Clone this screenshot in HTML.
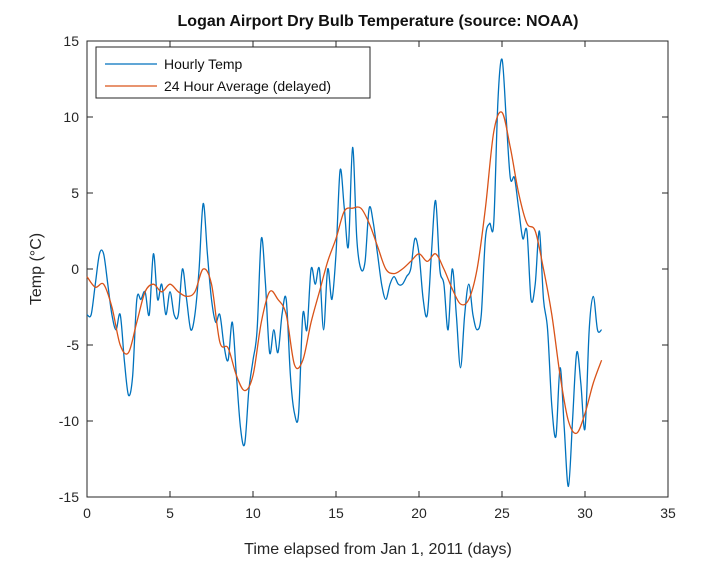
<!DOCTYPE html>
<html><head><meta charset="utf-8"><style>
body{margin:0;background:#fff;font-family:"Liberation Sans",sans-serif;}
svg text{font-family:"Liberation Sans",sans-serif;}
</style></head><body>
<svg id="chart" width="728" height="570" xmlns="http://www.w3.org/2000/svg">
<rect width="728" height="570" fill="#fff"/>
<text x="378" y="26" text-anchor="middle" font-size="16" font-weight="bold" fill="#111">Logan Airport Dry Bulb Temperature (source: NOAA)</text>
<g id="axes"></g>
<g id="series"></g>
<text transform="translate(41,269) rotate(-90)" text-anchor="middle" font-size="16" fill="#262626">Temp (°C)</text>
<text x="378" y="554" text-anchor="middle" font-size="16" fill="#262626">Time elapsed from Jan 1, 2011 (days)</text>
<g>
<rect x="96" y="47" width="274" height="51" fill="#fff" stroke="#262626" stroke-width="1"/>
<line x1="105" y1="64" x2="157" y2="64" stroke="#0072BD" stroke-width="1.3"/>
<text x="164" y="69" font-size="14" fill="#111">Hourly Temp</text>
<line x1="105" y1="86" x2="157" y2="86" stroke="#D95319" stroke-width="1.3"/>
<text x="164" y="91" font-size="14" fill="#111">24 Hour Average (delayed)</text>
</g>
</svg>
<script>
const hourlyDays = [0,0.25,0.5,0.75,1,1.25,1.5,1.75,2,2.25,2.5,2.75,3,3.25,3.5,3.75,4,4.25,4.5,4.75,5,5.25,5.5,5.75,6,6.25,6.5,6.75,7,7.25,7.5,7.75,8,8.25,8.5,8.75,9,9.25,9.5,9.75,10,10.25,10.5,10.75,11,11.25,11.5,11.75,12,12.25,12.5,12.75,13,13.25,13.5,13.75,14,14.25,14.5,14.75,15,15.25,15.5,15.75,16,16.25,16.5,16.75,17,17.25,17.5,17.75,18,18.25,18.5,18.75,19,19.25,19.5,19.75,20,20.25,20.5,20.75,21,21.25,21.5,21.75,22,22.25,22.5,22.75,23,23.25,23.5,23.75,24,24.25,24.5,24.75,25,25.25,25.5,25.75,26,26.25,26.5,26.75,27,27.25,27.5,27.75,28,28.25,28.5,28.75,29,29.25,29.5,29.75,30,30.25,30.5,30.75,31];
const hourlyTemp = [-3,-3,-1,1,1,-1,-3,-4,-3,-6,-8.3,-7,-2,-2,-1.5,-3,1,-2,-1,-3,-1.5,-3,-3,0,-2,-4,-3,0,4.3,1,-2,-3.5,-3,-5,-6,-3.5,-7,-10.5,-11.5,-8,-6,-4,2,-1,-5.5,-4,-5.5,-3,-2,-7,-9.5,-9.5,-3,-4,0,-1,0,-4,0,-2,1,6.5,4,1.5,8,2,0,0.5,4,3,1,-1,-2,-1,-0.5,-1,-1,-0.5,0,2,1,-2,-3,1,4.5,0,-1,-4,0,-3,-6.5,-3,-1,-3,-4,-3,2,3,3,11,13.8,10,6,6,4,2,2.5,-2,-1,2.5,-2,-4,-9,-11,-6.5,-10.5,-14.3,-10,-5.5,-7.5,-10.5,-4,-1.8,-4,-4];
const avgDays = [0,0.5,1,1.5,2,2.5,3,3.5,4,4.5,5,5.5,6,6.5,7,7.5,8,8.5,9,9.5,10,10.5,11,11.5,12,12.5,13,13.5,14,14.5,15,15.5,16,16.5,17,17.5,18,18.5,19,19.5,20,20.5,21,21.5,22,22.5,23,23.5,24,24.5,25,25.5,26,26.5,27,27.5,28,28.5,29,29.5,30,30.5,31];
const avgTemp = [-0.5,-1.2,-1,-2.5,-5,-5.5,-3.5,-1.5,-1,-1.5,-1,-1.5,-1.8,-1.5,0,-1,-4.8,-5.2,-7,-8,-7,-3.5,-1.5,-2,-3,-6.3,-6,-3.5,-1.5,0.5,2,3.8,4,4,3,1.5,0,-0.3,0,0.5,1,0.5,1,0,-1.3,-2.3,-2,0,4,9,10.3,8,5,3,2.5,0,-3,-7,-10,-10.8,-9.5,-7.5,-6];
const xTicks = [0,5,10,15,20,25,30,35];
const yTicks = [-15,-10,-5,0,5,10,15];

const X0=87,X1=668,Y0=497,Y1=41;
const xs = d => X0 + (d-0)/(35-0)*(X1-X0);
const ys = v => Y0 - (v+15)/30*(Y0-Y1);
const NS="http://www.w3.org/2000/svg";
const axes=document.getElementById('axes'), series=document.getElementById('series');
function mk(tag,attrs,parent){const e=document.createElementNS(NS,tag);for(const k in attrs)e.setAttribute(k,attrs[k]);parent.appendChild(e);return e;}
function smooth(pts){
  let d='M'+pts[0][0].toFixed(1)+','+pts[0][1].toFixed(1);
  for(let i=0;i<pts.length-1;i++){
    const p0=pts[Math.max(0,i-1)],p1=pts[i],p2=pts[i+1],p3=pts[Math.min(pts.length-1,i+2)];
    const c1x=p1[0]+(p2[0]-p0[0])/6,c1y=p1[1]+(p2[1]-p0[1])/6;
    const c2x=p2[0]-(p3[0]-p1[0])/6,c2y=p2[1]-(p3[1]-p1[1])/6;
    d+=' C'+c1x.toFixed(1)+','+c1y.toFixed(1)+' '+c2x.toFixed(1)+','+c2y.toFixed(1)+' '+p2[0].toFixed(1)+','+p2[1].toFixed(1);
  }
  return d;
}
const box=mk('rect',{x:X0,y:Y1,width:X1-X0,height:Y0-Y1,fill:'none',stroke:'#262626','stroke-width':1},axes);


xTicks.forEach(t=>{
  const x=xs(t);
  const l1=mk('line',{x1:x,y1:Y0,x2:x,y2:Y0-6,stroke:'#262626'},axes);
  
  
  const l2=mk('line',{x1:x,y1:Y1,x2:x,y2:Y1+6,stroke:'#262626'},axes);
  
  
  const tx=mk('text',{x:x,y:Y0+21,'text-anchor':'middle','font-size':14,fill:'#262626'},axes);
  tx.textContent=t;
  
  
});
yTicks.forEach(t=>{
  const y=ys(t);
  const l1=mk('line',{x1:X0,y1:y,x2:X0+6,y2:y,stroke:'#262626'},axes);
  
  
  const l2=mk('line',{x1:X1,y1:y,x2:X1-6,y2:y,stroke:'#262626'},axes);
  
  
  const tx=mk('text',{x:X0-8,y:y+5,'text-anchor':'end','font-size':14,fill:'#262626'},axes);
  tx.textContent=t;
  
  
});
const hp=mk('path',{d:smooth(hourlyDays.map((d,i)=>[xs(d),ys(hourlyTemp[i])])),fill:'none',stroke:'#0072BD','stroke-width':1.3,'stroke-linejoin':'round'},series);


const ap=mk('path',{d:smooth(avgDays.map((d,i)=>[xs(d),ys(avgTemp[i])])),fill:'none',stroke:'#D95319','stroke-width':1.3,'stroke-linejoin':'round'},series);


</script>
</body></html>
